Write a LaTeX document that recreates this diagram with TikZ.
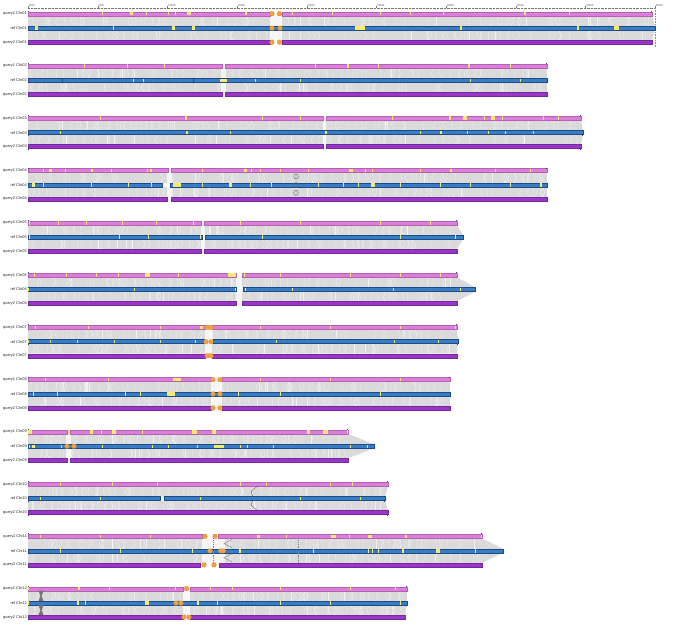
\documentclass[tikz,border=0pt]{standalone}
\usepackage{fontspec}
\setmainfont{Liberation Sans}
\definecolor{qonec}{HTML}{DA80DA}
\definecolor{qoneE}{HTML}{B55FB5}
\definecolor{refc}{HTML}{3A7DC4}
\definecolor{refE}{HTML}{1A4C88}
\definecolor{qtwoc}{HTML}{9A36C6}
\definecolor{qtwoE}{HTML}{7628A0}
\definecolor{ylwc}{HTML}{F8EA6A}
\definecolor{ornc}{HTML}{F0A040}
\definecolor{ornE}{HTML}{D88828}
\definecolor{bandc}{HTML}{DADADA}
\tikzset{
 qone/.style={fill=qonec, draw=qoneE, line width=0.3pt},
 refbar/.style={fill=refc, draw=refE, line width=0.6pt},
 qtwo/.style={fill=qtwoc, draw=qtwoE, line width=0.3pt},
 orn/.style={fill=ornc, draw=ornE, line width=0.2pt},
 band/.style={fill=bandc},
 tex/.style={draw=white, line width=0.3pt, opacity=0.6},
 lbl/.style={font=\fontsize{3.9}{4.2}\selectfont, anchor=east, inner sep=0pt, text=black!85},
 axlbl/.style={font=\fontsize{2.9}{3}\selectfont, anchor=south west, inner sep=0pt, text=black!60},
 featmark/.style={draw=black!60, line width=0.35pt},
}
\newcommand\SetY[1]{\pgfmathsetmacro\yA{13.7+52.27*#1}\pgfmathsetmacro\yB{\yA+14.4}\pgfmathsetmacro\yC{\yA+28.4}}
\newcommand\Bands[3]{%
 \fill[band] (28,\yA+2) -- (#1,\yA+2) -- (#2,\yB-2) -- (28,\yB-2) -- cycle;
 \fill[band] (28,\yB+2) -- (#2,\yB+2) -- (#3,\yC-2) -- (28,\yC-2) -- cycle;
 \pgfmathsetmacro\xmaxA{min(#1,#2)-33}
 \pgfmathsetmacro\xmaxB{min(#2,#3)-33}
 \foreach \k in {1,...,95}{%
  \pgfmathsetmacro\xx{30+rnd*\xmaxA}\pgfmathsetmacro\dd{rand*5}\pgfmathsetmacro\mm{rand*2.5}
  \draw[tex] (\xx,\yA+2) .. controls (\xx+\dd,\yA+7.2+\mm) .. (\xx,\yB-2);
  \pgfmathsetmacro\xx{30+rnd*\xmaxB}\pgfmathsetmacro\dd{rand*5}\pgfmathsetmacro\mm{rand*2.5}
  \draw[tex] (\xx,\yB+2) .. controls (\xx+\dd,\yB+7.2+\mm) .. (\xx,\yC-2);}
}
\newcommand\Gap[2]{\fill[white, opacity=0.75] (#1,\yA+2) rectangle (#2,\yC-2);}
\newcommand\QA[2]{\path[qone] (#1,\yA-2) rectangle (#2,\yA+2);}
\newcommand\RF[2]{\path[refbar] (#1,\yB-2) rectangle (#2,\yB+2);}
\newcommand\QC[2]{\path[qtwo] (#1,\yC-2) rectangle (#2,\yC+2);}
\newcommand\YA[1]{\foreach \p/\w in {#1}{\fill[ylwc] (\p,\yA-1.8) rectangle ++({max(\w,1.4)},3.6);}}
\newcommand\YB[1]{\foreach \p/\w in {#1}{\fill[ylwc] (\p,\yB-1.7) rectangle ++({max(\w,1.4)},3.4);}}
\newcommand\OR[2]{\path[orn] (#1-2.4,#2) -- (#1-1.4,#2-2.2) -- (#1+1.4,#2-2.2) -- (#1+2.4,#2) -- (#1+1.4,#2+2.2) -- (#1-1.4,#2+2.2) -- cycle;}
\newcommand\ORA[1]{\foreach \p in {#1}{\OR{\p}{\yA}}}
\newcommand\ORB[1]{\foreach \p in {#1}{\OR{\p}{\yB}}}
\newcommand\ORC[1]{\foreach \p in {#1}{\OR{\p}{\yC}}}
\newcommand\Ends[3]{%
 \fill[refE] (27.6,\yA-3) rectangle (28.6,\yA-2); \fill[refE] (#1-0.6,\yA-3) rectangle (#1+0.4,\yA-2);
 \fill[refE] (27.6,\yB+2) rectangle (28.6,\yB+3); \fill[refE] (#2-0.6,\yB+2) rectangle (#2+0.4,\yB+3);
 \fill[refE] (27.6,\yC+2) rectangle (28.6,\yC+3); \fill[refE] (#3-0.6,\yC+2) rectangle (#3+0.4,\yC+3);}
\newcommand\Labels[1]{%
 \node[lbl] (qa#1) at (27,\yA) {query1 Chr#1};
 \node[lbl] (rf#1) at (27,\yB) {ref Chr#1};
 \node[lbl] (qc#1) at (27,\yC) {query2 Chr#1};}
\begin{document}
\begin{tikzpicture}[x=1pt,y=-1pt]
\useasboundingbox (0,0) rectangle (700,631);
\pgfmathsetseed{4242}
% axis
\draw[black!55, line width=0.3pt, dash pattern=on 0.8pt off 0.6pt] (28,8) -- (655,8);
\foreach \k [evaluate=\k as \mb using int(5*\k)] in {0,...,9}{%
 \draw[black!55, line width=0.3pt] (28+69.67*\k,8) -- ++(0,-1.6);
 \node[axlbl] (ax\k) at (28.6+69.67*\k,6.4) {\mb Mb};}
\draw[black!45, line width=0.3pt, dash pattern=on 0.8pt off 0.8pt] (655,8) -- (655,47);

% ---- Chr01
\SetY{0}
\Bands{652}{655}{652}\Gap{270}{282}
\QA{28}{270}\QA{282}{652}
\YA{102/0.7,130/3,145.5/0.8,168/0.6,175/0.6,187/4,245/2,292/0.8,332/0.6,380/0.5,410/0.5,443/0.5,524/2,569/0.6}
\ORA{272,279.5}
\RF{28}{655}
\YB{35/2.5,113/0.8,172/2.5,192/3,355/10,460/2,577/1.5,614/5}
\ORB{272,280}
\QC{28}{270}\QC{282}{652}\ORC{272,279.5}
\Ends{652}{655}{652}\Labels{01}

% ---- Chr02
\SetY{1}
\Bands{547}{547}{547}\Gap{221}{226}
\QA{28}{222}\QA{225}{547}
\YA{84/0.8,127/0.8,164/0.8,315/1,347/2,378/1,468/2,510/1}
\RF{28}{547}
\YB{133/0.8,143/0.8,220/7,255/1,300/1,470/1,520/1}
\draw[refE, line width=0.5pt] (62,\yB-2) -- (62,\yB+2) (193,\yB-2) -- (193,\yB+2);
\QC{28}{222}\QC{225}{547}
\Ends{547}{547}{547}\Labels{02}

% ---- Chr03
\SetY{2}
\Bands{581}{583}{581}\Gap{323}{326}
\QA{28}{323}\QA{326}{581}
\YA{100/1,185/2,262/1,300/1,392/1,449/2,463/4,484/1,491/4,502/0.8,543/1,558/1}
\RF{28}{583}
\YB{60/1,186/2,230/1,325/1.5,420/1,440/2,467/1,488/1,505/1,533/1}
\QC{28}{323}\QC{326}{581}
\Ends{581}{583}{581}\Labels{03}

% ---- Chr04
\SetY{3}
\Bands{547}{547}{547}\Gap{167}{172}
\QA{28}{168}\QA{171}{547}
\YA{43/0.8,49/3,65/0.8,91/2,111/0.8,147/1,150/2,202/1,244/3,251/1,260/1,280/1,308/1,349/4,365/1,372/1,420/1,450/2,495/1,530/1}
\RF{28}{162}\RF{170}{547}
\YB{32/3,43/1,91/1,128/1,151/1,173/8,202/1,229/3,250/1,271/1,318/1,343/1,358/1,371/4,400/1,440/1,470/1,510/1,540/2}
\QC{28}{167}\QC{171}{547}
\draw[featmark] (296,\yA+6) circle [x radius=2.4, y radius=2.6] (296,\yA+3.5) -- (296,\yA+8.5);
\draw[featmark] (296,\yB) circle [x radius=2.4, y radius=2.4];
\draw[featmark] (296,\yB+8) circle [x radius=2.4, y radius=2.6] (296,\yB+5.5) -- (296,\yB+10.5);
\Ends{547}{547}{547}\Labels{04}

% ---- Chr05
\SetY{4}
\Bands{457}{463}{457}\Gap{201}{205}
\QA{28}{201}\QA{204}{457}
\YA{29/1,58/1,86/1,122/1,156/1,193/1,240/1,300/1,380/1,430/1}
\RF{28}{202}\RF{205}{463}
\YB{29/1,119/1,148/1,200/1,262/1,400/1,455/1}
\QC{28}{201}\QC{204}{457}
\Ends{457}{463}{457}\Labels{05}

% ---- Chr06
\SetY{5}
\Bands{457}{475}{457}\Gap{236}{242}
\QA{28}{236}\QA{242}{457}
\YA{34/1,66/1,96/1,118/1,145/5,178/1,228/8,244/1,280/1,350/1,400/1,440/1}
\RF{28}{236}\RF{243}{475}
\YB{28/1,134/1,235/1,245/1,292/1,393/1,460/1}
\QC{28}{236}\QC{242}{457}
\Ends{457}{475}{457}\Labels{06}

% ---- Chr07
\SetY{6}
\Bands{457}{458}{457}\Gap{205}{212}
\QA{28}{205}\QA{212}{457}
\YA{35/1,88/1,160/1,200/3,260/1,330/1,400/1,455/1}
\ORA{207,211}
\RF{28}{204}\RF{213}{458}
\YB{28/1,50/1,77/1,114/1,160/1,195/1,276/1,394/1,438/1}
\ORB{206,211}
\QC{28}{205}\QC{212}{457}\ORC{207,211}
\Ends{457}{458}{457}\Labels{07}

% ---- Chr08
\SetY{7}
\Bands{450}{450}{450}\Gap{211}{222}
\QA{28}{211}\QA{222}{450}
\YA{45/1,108/1,173/8,260/1,330/1,400/1}
\ORA{213,220}
\RF{28}{450}
\YB{33/1,57/1,125/1,140/1,167/8,238/1,280/1,380/1}
\ORB{213,220}
\QC{28}{211}\QC{222}{450}\ORC{213,220}
\Ends{450}{450}{450}\Labels{08}

% ---- Chr09
\SetY{8}
\Bands{348}{374}{348}\Gap{66}{71}
\QA{28}{67}\QA{70}{348}
\YA{28/4,68/1.5,90/3,101/1,112/4,142/0.8,192/5,212/4,307/3,323/5,347/1}
\RF{28}{374}
\YB{29/1,32/3,61/1,102/1,152/1,168/1,197/1,214/10,240/1,247/1,273/1,350/1,367/1}
\ORB{67,74}
\QC{28}{67}\QC{70}{348}
\Ends{348}{374}{348}\Labels{09}

% ---- Chr10
\SetY{9}
\Bands{388}{385}{388}
\QA{28}{388}
\YA{60/1,112/1,157/1,240/1,266/1,330/1,352/1}
\RF{28}{160}\RF{164}{385}
\YB{40/1,100/1,200/1,300/1,360/1}
\QC{28}{388}
\draw[featmark] (258,\yA+2) .. controls (250,\yA+7) .. (253,\yB-2);
\draw[featmark] (253,\yB+2) .. controls (250,\yB+7) .. (258,\yC-2);
\Ends{388}{385}{388}\Labels{10}

% ---- Chr11
\SetY{10}
\Bands{482}{503}{482}\Gap{202}{225}
\QA{28}{202}\QA{218}{482}
\YA{40/1,100/1,150/1,257/3,286/1,331/5,349/1,368/4,405/2,481/1}
\ORA{205,215}
\RF{28}{503}
\YB{60/1,120/1,192/1,239/2,313/1,368/1,372/1,378/1,402/2,436/4,475/1}
\OR{210}{\yB}\path[orn] (218,\yB) -- (219.5,\yB-2.2) -- (224.5,\yB-2.2) -- (226,\yB) -- (224.5,\yB+2.2) -- (219.5,\yB+2.2) -- cycle;
\QC{28}{200}\QC{219}{482}\ORC{204,214}
\draw[black!50, line width=0.35pt, dash pattern=on 1pt off 0.8pt] (213,\yA+2) -- (213,\yB-2) (213,\yB+2) -- (213,\yC-2);
\draw[black!50, line width=0.35pt, dash pattern=on 1pt off 0.8pt] (298,\yA+2) -- (298,\yB-2) (298,\yB+2) -- (298,\yC-2);
\draw[black!45, line width=0.5pt] (232,\yA+3) -- (224,\yA+7) -- (232,\yB-3) (232,\yB+3) -- (224,\yB+7) -- (232,\yC-3);
\Ends{482}{503}{482}\Labels{11}

% ---- Chr12
\SetY{11}
\Bands{407}{407}{405}\Gap{183}{190}
\QA{28}{183}\QA{190}{407}
\YA{28/1,78/2,109/1,175/1,210/1,232/1,280/1,350/1,395/1}
\ORA{186.5}
\RF{28}{407}
\YB{28/1,77/2,85/1,145/4,197/2,217/1,280/1,330/1,400/1}
\ORB{176,181}
\QC{28}{183}\QC{190}{405}\ORC{184,189}
\fill[black!55] (38.5,\yA+2) -- (43.5,\yA+2) -- (41.6,\yA+7.2) -- (43.5,\yB-2) -- (38.5,\yB-2) -- (40.4,\yA+7.2) -- cycle;
\fill[black!55] (38.5,\yB+2) -- (43.5,\yB+2) -- (41.6,\yB+7.2) -- (43.5,\yC-2) -- (38.5,\yC-2) -- (40.4,\yB+7.2) -- cycle;
\Ends{407}{407}{405}\Labels{12}
\end{tikzpicture}
\end{document}
